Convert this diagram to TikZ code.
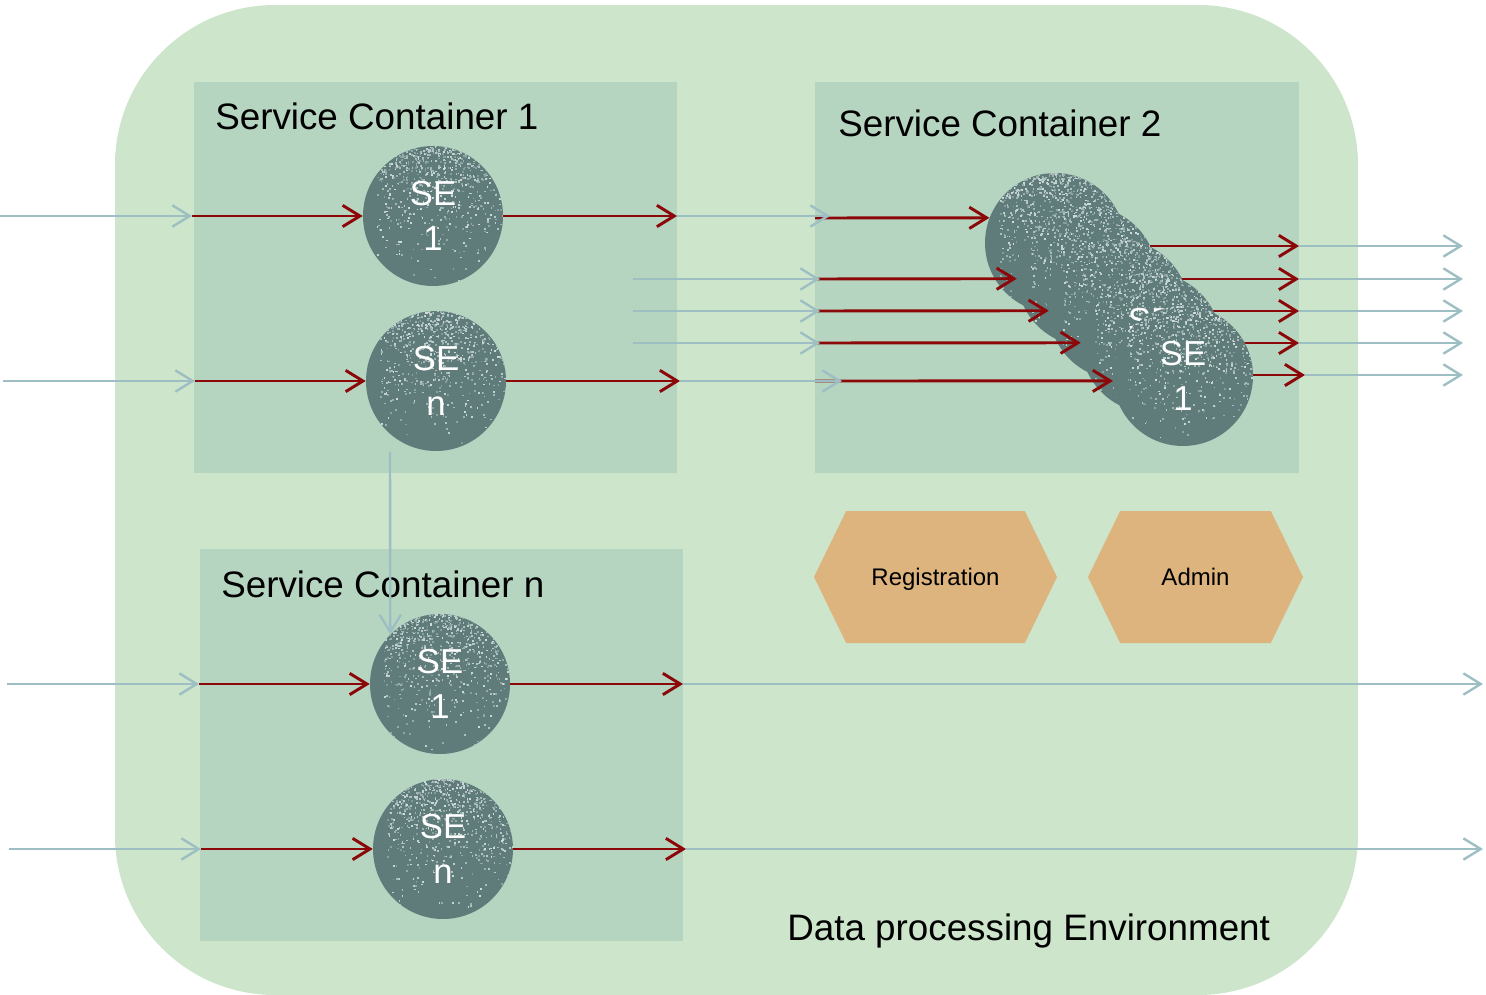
\documentclass[tikz,border=0pt]{standalone}
\usepackage{fontspec}
\setmainfont{Liberation Sans}
\usetikzlibrary{arrows.meta,shapes.symbols}
\definecolor{envbg}{RGB}{204,229,203}
\definecolor{contbg}{RGB}{181,213,193}
\definecolor{flowred}{RGB}{140,8,8}
\definecolor{flowblue}{RGB}{157,191,195}
\definecolor{hexfill}{RGB}{221,179,126}
\definecolor{sebase}{RGB}{95,124,123}
\definecolor{speck}{RGB}{230,240,240}
\newcommand{\sespecks}{%
  \foreach \i in {1,...,900}{%
    \pgfmathsetmacro{\sx}{53*(1-1.8*rnd)}%
    \pgfmathsetmacro{\sy}{53*(1-2*rnd*rnd)}%
    \pgfmathtruncatemacro{\so}{25+60*rnd}%
    \fill[speck!\so!sebase] ([xshift=\sx pt, yshift=\sy pt]path picture bounding box.center) rectangle ++(1.3pt,1.3pt);
  }}
\begin{document}
\begin{tikzpicture}[x=0.75pt,y=-0.75pt,
  container/.style={fill=contbg},
  title/.style={inner sep=0pt, font=\fontsize{27.6}{33}\selectfont},
  se/.style={circle, minimum size=105pt, inner sep=0pt, fill=sebase, path picture={\sespecks},
    text=white, font=\fontsize{26}{34}\selectfont, align=center},
  redarr/.style={draw=flowred, line width=2.2pt, -{Straight Barb[length=13pt,width=16pt]}},
  bluearr/.style={draw=flowblue, line width=1.8pt, -{Straight Barb[length=13pt,width=16pt]}},
  hexa/.style={signal, signal to=west and east, signal pointer angle=128, fill=hexfill,
    inner sep=0pt, text depth=0pt, font=\fontsize{18}{22}\selectfont}]
\pgfmathsetseed{4217}
\useasboundingbox (0,0) rectangle (1486,995);
% environment
\fill[envbg, rounded corners=120pt] (115,5) rectangle (1358,995);
% containers
\fill[container] (194,82) rectangle (677,473);
\fill[container] (815,82) rectangle (1299,473);
\fill[container] (200,549) rectangle (683,941);
% titles
\node[title, anchor=west] (t1) at (215,116) {Service Container 1};
\node[title, anchor=west] (t2) at (838,123) {Service Container 2};
\node[title, anchor=west] (tn) at (221,584) {Service Container n};
\node[title, anchor=base west] (tenv) at (787,940) {Data processing Environment};
% hexagons
\node[hexa, minimum width=182.25pt, minimum height=99pt] (reg) at (935.5,577) {Registration};
\node[hexa, minimum width=161.25pt, minimum height=99pt] (adm) at (1195.5,577) {Admin};
% coordinates
\coordinate (a1) at (0,216);   \coordinate (b1) at (192,216);
\coordinate (e1) at (677,216); \coordinate (f1) at (830,216); \coordinate (g1) at (815,218);
\coordinate (a2) at (3,381);   \coordinate (b2) at (195,381);
\coordinate (e2) at (680,381); \coordinate (f2) at (842,381); \coordinate (g2) at (815,381);
\coordinate (m1) at (633,279); \coordinate (n1) at (820,279); \coordinate (p1) at (815,279);
\coordinate (m2) at (633,311); \coordinate (n2) at (820,311); \coordinate (p2) at (815,311);
\coordinate (m3) at (633,343); \coordinate (n3) at (820,343); \coordinate (p3) at (815,343);
\coordinate (r1) at (1299,246); \coordinate (q1) at (1463,246);
\coordinate (r2) at (1299,279); \coordinate (q2) at (1463,279);
\coordinate (r3) at (1299,311); \coordinate (q3) at (1463,311);
\coordinate (r4) at (1299,343); \coordinate (q4) at (1463,343);
\coordinate (r5) at (1305,375); \coordinate (q5) at (1463,375);
\coordinate (a3) at (7,684);   \coordinate (b3) at (199,684);
\coordinate (e3) at (683,684); \coordinate (f3) at (1483,684);
\coordinate (a4) at (9,849);   \coordinate (b4) at (201,849);
\coordinate (e4) at (686,849); \coordinate (f4) at (1483,849);
\coordinate (v1) at (390,452);
% stacked SE in container 2: outgoing lines behind
\coordinate (s1c) at (1055,243);
\coordinate (s2c) at (1087,276.25);
\coordinate (s3c) at (1119,309.5);
\coordinate (s4c) at (1151,342.75);
\coordinate (s5c) at (1183,376);
\draw[redarr] (s1c |- r1) -- (r1);
\draw[redarr] (s2c |- r2) -- (r2);
\draw[redarr] (s3c |- r3) -- (r3);
\draw[redarr] (s4c |- r4) -- (r4);
\draw[redarr] (s5c |- r5) -- (r5);
\node[se] (st1) at (s1c) {};
\node[se] (st2) at (s2c) {};
\node[se] (st3) at (s3c) {};
\node[se] (st4) at (s4c) {SE\\1};
\node[se] (st5) at (s5c) {SE\\1};
% other SE
\node[se] (c1s1) at (433,216) {SE\\1};
\node[se] (c1sn) at (436,381) {SE\\n};
\node[se] (cns1) at (440,684) {SE\\1};
\node[se] (cnsn) at (443,849) {SE\\n};
% row 1
\draw[bluearr] (a1) -- (b1);
\draw[redarr] (b1) -- (c1s1.west);
\draw[redarr] (c1s1.east) -- (e1);
\draw[redarr] (g1) -- (st1.159);
\draw[bluearr] (e1) -- (f1);
% row 2
\draw[bluearr] (a2) -- (b2);
\draw[redarr] (b2) -- (c1sn.west);
\draw[redarr] (c1sn.east) -- (e2);
\draw[redarr] (g2) -- (st5.184.1);
\draw[bluearr] (e2) -- (f2);
% middle rows
\draw[redarr] (p1) -- (st2.182.25);
\draw[redarr] (p2) -- (st3.181.2);
\draw[redarr] (p3) -- (st4.180.2);
\draw[bluearr] (m1) -- (n1);
\draw[bluearr] (m2) -- (n2);
\draw[bluearr] (m3) -- (n3);
% outgoing blue on the right
\draw[bluearr] (r1) -- (q1);
\draw[bluearr] (r2) -- (q2);
\draw[bluearr] (r3) -- (q3);
\draw[bluearr] (r4) -- (q4);
\draw[bluearr] (r5) -- (q5);
% container n rows
\draw[bluearr] (a3) -- (b3);
\draw[redarr] (b3) -- (cns1.west);
\draw[redarr] (cns1.east) -- (e3);
\draw[bluearr] (e3) -- (f3);
\draw[bluearr] (a4) -- (b4);
\draw[redarr] (b4) -- (cnsn.west);
\draw[redarr] (cnsn.east) -- (e4);
\draw[bluearr] (e4) -- (f4);
% vertical link
\draw[bluearr] (v1) -- (cns1.135.6);
\end{tikzpicture}
\end{document}
